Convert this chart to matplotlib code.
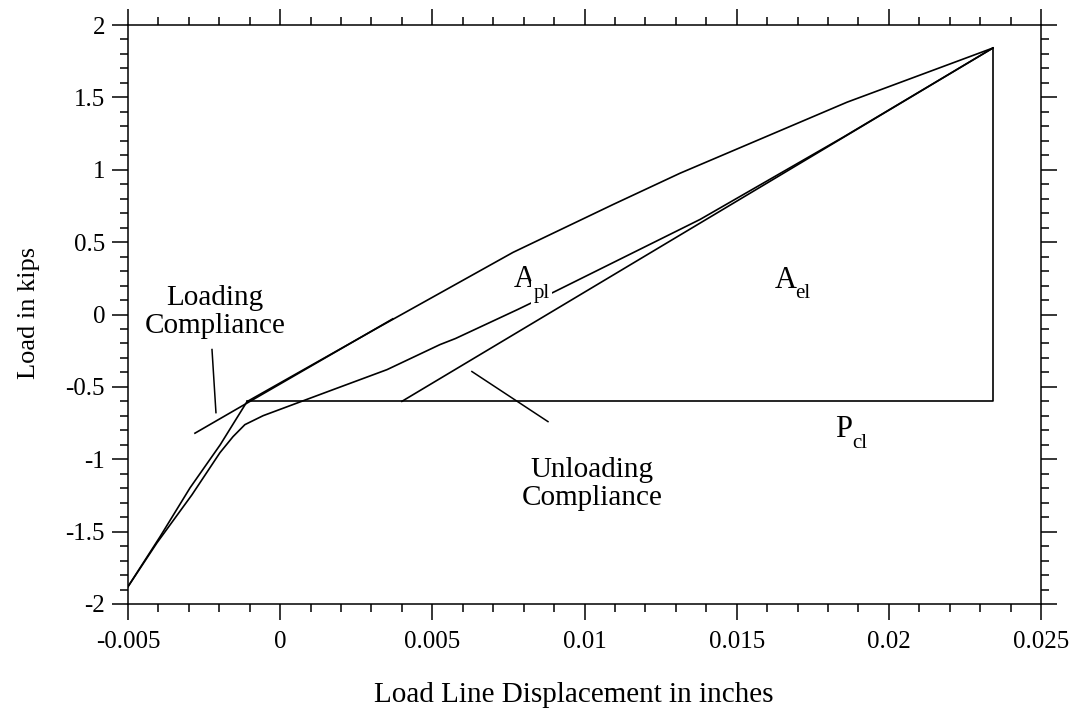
import matplotlib
matplotlib.use("Agg")
import matplotlib.pyplot as plt
from matplotlib.ticker import MultipleLocator, FixedLocator, FixedFormatter

plt.rcParams['font.family'] = ['Liberation Serif', 'DejaVu Serif']
plt.rcParams['axes.unicode_minus'] = False

# ---- data ----
loading_x = [-0.00500, -0.00395, -0.00296, -0.00197, -0.00109, 0.00328,
             0.00765, 0.01094, 0.01314, 0.01863, 0.02342]
loading_y = [-1.88, -1.536, -1.197, -0.900, -0.602, -0.083,
             0.429, 0.760, 0.976, 1.467, 1.841]

unloading_x = [0.02342, 0.01850, 0.01380, 0.00903, 0.00781, 0.00576, 0.00525,
               0.00351, 0.00174, 0.00059, -0.00056, -0.00116, -0.00155,
               -0.00198, -0.00290, -0.00405, -0.00500]
unloading_y = [1.841, 1.225, 0.657, 0.159, 0.035, -0.166, -0.208,
               -0.381, -0.519, -0.609, -0.699, -0.761, -0.844,
               -0.955, -1.246, -1.578, -1.88]

loading_compliance_x = [-0.0028, 0.0037]
loading_compliance_y = [-0.82, -0.03]

unloading_compliance_x = [0.0040, 0.02342]
unloading_compliance_y = [-0.60, 1.841]

P_cl = -0.60
closure_x = [-0.00109, 0.02342, 0.02342]
closure_y = [P_cl, P_cl, 1.841]

x_ticks = [-0.005, 0.0, 0.005, 0.01, 0.015, 0.02, 0.025]
x_tick_labels = ['-0.005', '0', '0.005', '0.01', '0.015', '0.02', '0.025']
y_ticks = [-2, -1.5, -1, -0.5, 0, 0.5, 1, 1.5, 2]
y_tick_labels = ['-2', '-1.5', '-1', '-0.5', '0', '0.5', '1', '1.5', '2']

# ---- figure ----
fig = plt.figure(figsize=(10.76, 7.17), dpi=100)
ax = fig.add_axes([128/1076, 1 - 604/717, 913/1076, 579/717])

lw = 1.2
ax.plot(loading_x, loading_y, color='black', lw=lw)
ax.plot(unloading_x, unloading_y, color='black', lw=lw)
ax.plot(loading_compliance_x, loading_compliance_y, color='black', lw=lw)
ax.plot(unloading_compliance_x, unloading_compliance_y, color='black', lw=lw)
ax.plot(closure_x, closure_y, color='black', lw=lw)

ax.set_xlim(-0.005, 0.025)
ax.set_ylim(-2, 2)

ax.xaxis.set_major_locator(FixedLocator(x_ticks))
ax.xaxis.set_major_formatter(FixedFormatter(x_tick_labels))
ax.yaxis.set_major_locator(FixedLocator(y_ticks))
ax.yaxis.set_major_formatter(FixedFormatter(y_tick_labels))
ax.xaxis.set_minor_locator(MultipleLocator(0.001))
ax.yaxis.set_minor_locator(MultipleLocator(0.1))

ax.tick_params(which='both', direction='out', top=True, right=True,
               labeltop=False, labelright=False, width=1.1, labelsize=18,
               colors='black')
ax.tick_params(axis='x', which='major', length=11.5, pad=8)
ax.tick_params(axis='y', which='major', length=11.5, pad=5)
ax.tick_params(which='minor', length=5.5)
for s in ax.spines.values():
    s.set_linewidth(1.1)

ax.set_xlabel('Load Line Displacement in inches', fontsize=21)
ax.xaxis.set_label_coords((574 - 128) / 913, -(695 - 604) / 579)
ax.xaxis.label.set_va('center')
ax.set_ylabel('Load in kips', fontsize=19)
ax.yaxis.set_label_coords(-(128 - 29) / 913, (604 - 313) / 579)
ax.yaxis.label.set_va('center')

tfs = 21
# annotations
ax.text(-0.00214, 0.02, 'Loading\nCompliance', ha='center', va='center',
        fontsize=tfs, linespacing=1.1)
ax.plot([-0.00224, -0.00211], [-0.242, -0.678], color='black', lw=1.1)

ax.text(0.01025, -1.17, 'Unloading\nCompliance', ha='center', va='center',
        fontsize=tfs, linespacing=1.1)
ax.plot([0.00630, 0.00880], [-0.394, -0.740], color='black', lw=1.1)


def sub_label(x, y, main, sub, dx, dy, gap=False):
    t = ax.text(x, y, main, fontsize=22, ha='left', va='baseline', zorder=5)
    ann = ax.annotate(sub, xy=(x, y), xytext=(dx, dy), textcoords='offset points',
                      fontsize=15, ha='left', va='baseline', zorder=5)
    if gap:
        t.set_bbox(dict(facecolor='white', edgecolor='none', pad=1))
        ann.set_bbox(dict(facecolor='white', edgecolor='none', pad=2))


sub_label(0.00766, 0.190, 'A', 'pl', 14.5, -8, gap=True)
sub_label(0.01626, 0.180, 'A', 'el', 14.5, -7)
sub_label(0.01823, -0.844, 'P', 'cl', 12.5, -8)

fig.savefig('out.png', dpi=100)
